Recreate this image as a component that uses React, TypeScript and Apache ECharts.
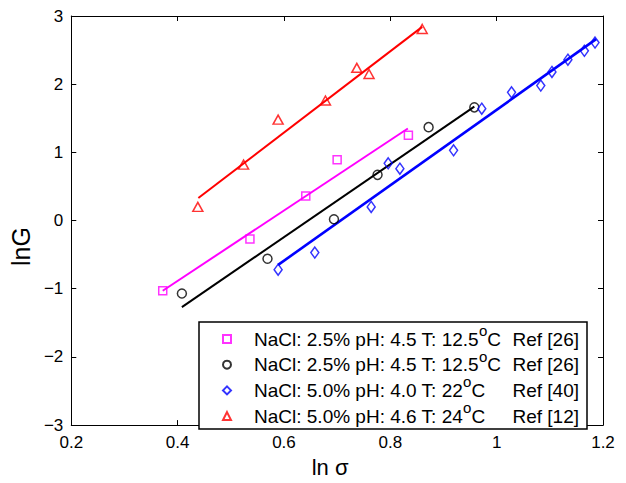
import React, { useEffect, useRef } from "react";
import * as echarts from "echarts";

// ---- data ----
const magentaPts: [number, number][] = [
  [0.372, -1.03], [0.536, -0.27], [0.641, 0.36], [0.700, 0.89], [0.834, 1.25],
];
const blackPts: [number, number][] = [
  [0.408, -1.07], [0.569, -0.56], [0.694, 0.02], [0.776, 0.67], [0.872, 1.37], [0.958, 1.66],
];
const bluePts: [number, number][] = [
  [0.589, -0.72], [0.658, -0.47], [0.764, 0.20], [0.796, 0.84], [0.818, 0.76], [0.919, 1.03],
  [0.972, 1.64], [1.028, 1.88], [1.083, 1.98], [1.104, 2.18], [1.134, 2.36], [1.165, 2.49], [1.185, 2.61],
];
const redPts: [number, number][] = [
  [0.438, 0.20], [0.524, 0.82], [0.589, 1.48], [0.678, 1.76], [0.737, 2.24], [0.760, 2.15], [0.860, 2.81],
];

// fitted lines (end points)
const magentaFit: [number, number][] = [[0.372, -1.03], [0.833, 1.35]];
const blackFit: [number, number][] = [[0.408, -1.27], [0.958, 1.67]];
const blueFit: [number, number][] = [[0.589, -0.65], [1.187, 2.66]];
const redFit: [number, number][] = [[0.439, 0.33], [0.860, 2.84]];

const seriesKeys = ["s1", "s2", "s3", "s4"];
const legendMain = [
  "NaCl: 2.5% pH: 4.5 T: 12.5",
  "NaCl: 2.5% pH: 4.5 T: 12.5",
  "NaCl: 5.0% pH: 4.0 T: 22",
  "NaCl: 5.0% pH: 4.6 T: 24",
];
const legendRef = ["Ref [26]", "Ref [26]", "Ref [40]", "Ref [12]"];

const xMin = 0.2, xMax = 1.2, xStep = 0.2;
const yMin = -3, yMax = 3, yStep = 1;

const FONT = "'Liberation Sans', Arial, Helvetica, sans-serif";

export default function App() {
  const ref = useRef<HTMLDivElement>(null);
  useEffect(() => {
    if (!ref.current) return;
    const chart = echarts.init(ref.current, undefined, { renderer: "svg" });

    const fmtX = (v: number) => String(Math.round(v * 10) / 10);
    const fmtY = (v: number) => (v < 0 ? "\u2212" + Math.abs(v) : String(v));

    const axisCommon = {
      type: "value" as const,
      axisLine: { show: true, onZero: false, lineStyle: { color: "#000", width: 1 } },
      axisTick: { show: true, inside: true, length: 5, lineStyle: { color: "#000", width: 1 } },
      splitLine: { show: false },
    };

    const scatter = (key: string, data: [number, number][], color: string, symbol: string, size: any, z = 5) => ({
      name: key,
      type: "scatter",
      data,
      symbol,
      symbolSize: size,
      z,
      itemStyle: { color: "rgba(0,0,0,0)", borderColor: color, borderWidth: 1.5 },
    });
    const fit = (data: [number, number][], color: string, width: number) => ({
      type: "line",
      data,
      symbol: "none",
      z: 3,
      lineStyle: { color, width },
    });

    chart.setOption({
      animation: false,
      backgroundColor: "#fff",
      textStyle: { fontFamily: FONT },
      grid: { left: 65, right: 23, top: 16, bottom: 43, containLabel: false },
      xAxis: [
        {
          ...axisCommon,
          min: xMin, max: xMax, interval: xStep,
          name: "ln \u03c3",
          nameLocation: "middle",
          nameGap: 27,
          nameTextStyle: { fontSize: 22, color: "#000", fontFamily: FONT, padding: [0, 14, 0, 0] },
          axisLabel: { fontSize: 17, color: "#000", margin: 9, formatter: fmtX, fontFamily: FONT },
        },
        {
          ...axisCommon,
          position: "top",
          min: xMin, max: xMax, interval: xStep,
          axisLabel: { show: false },
        },
      ],
      yAxis: [
        {
          ...axisCommon,
          min: yMin, max: yMax, interval: yStep,
          name: "lnG",
          nameLocation: "middle",
          nameGap: 30,
          nameTextStyle: { fontSize: 25, color: "#000", fontFamily: FONT, padding: [0, 52, 0, 0] },
          axisLabel: { fontSize: 17, color: "#000", margin: 8, formatter: fmtY, fontFamily: FONT },
        },
        {
          ...axisCommon,
          position: "right",
          min: yMin, max: yMax, interval: yStep,
          axisLabel: { show: false },
        },
      ],
      legend: {
        data: seriesKeys,
        orient: "vertical",
        left: 199,
        top: 322,
        padding: [1, 8, 3, 23],
        itemGap: -0.3,
        itemWidth: 8,
        itemHeight: 8,
        selectedMode: false,
        backgroundColor: "#fff",
        borderColor: "#000",
        borderWidth: 1.5,
        borderRadius: 0,
        formatter: (name: string) => {
          const i = seriesKeys.indexOf(name);
          return `{t|${legendMain[i]}}{s|o}{t|C}{r|${legendRef[i]}}`;
        },
        textStyle: {
          color: "#000",
          fontFamily: FONT,
          fontSize: 19,
          width: 325,
          lineHeight: 20,
          padding: [0, 0, 0, 18],
          rich: {
            t: { fontSize: 19, lineHeight: 20, fontFamily: FONT, color: "#000" },
            s: { fontSize: 15, lineHeight: 17, height: 0, padding: [0, 0, 17, 0], fontFamily: FONT, color: "#000" },
            r: { fontSize: 19, lineHeight: 20, fontFamily: FONT, color: "#000", align: "right" },
          },
        },
      },
      series: [
        fit(magentaFit, "#ff00ff", 2),
        fit(blackFit, "#000000", 2),
        fit(blueFit, "#0000ff", 2.6),
        fit(redFit, "#ff0000", 2),
        scatter(seriesKeys[0], magentaPts, "#ff00ff", "rect", 8),
        scatter(seriesKeys[1], blackPts, "#000000", "circle", 9),
        scatter(seriesKeys[2], bluePts, "#0000ff", "diamond", [8, 11]),
        scatter(seriesKeys[3], redPts, "#ff0000", "triangle", [10, 9]),
      ],
    });
    return () => chart.dispose();
  }, []);
  return (
    <div
      ref={ref}
      style={{ position: "fixed", left: 0, top: 0, width: 626, height: 483 }}
    />
  );
}
